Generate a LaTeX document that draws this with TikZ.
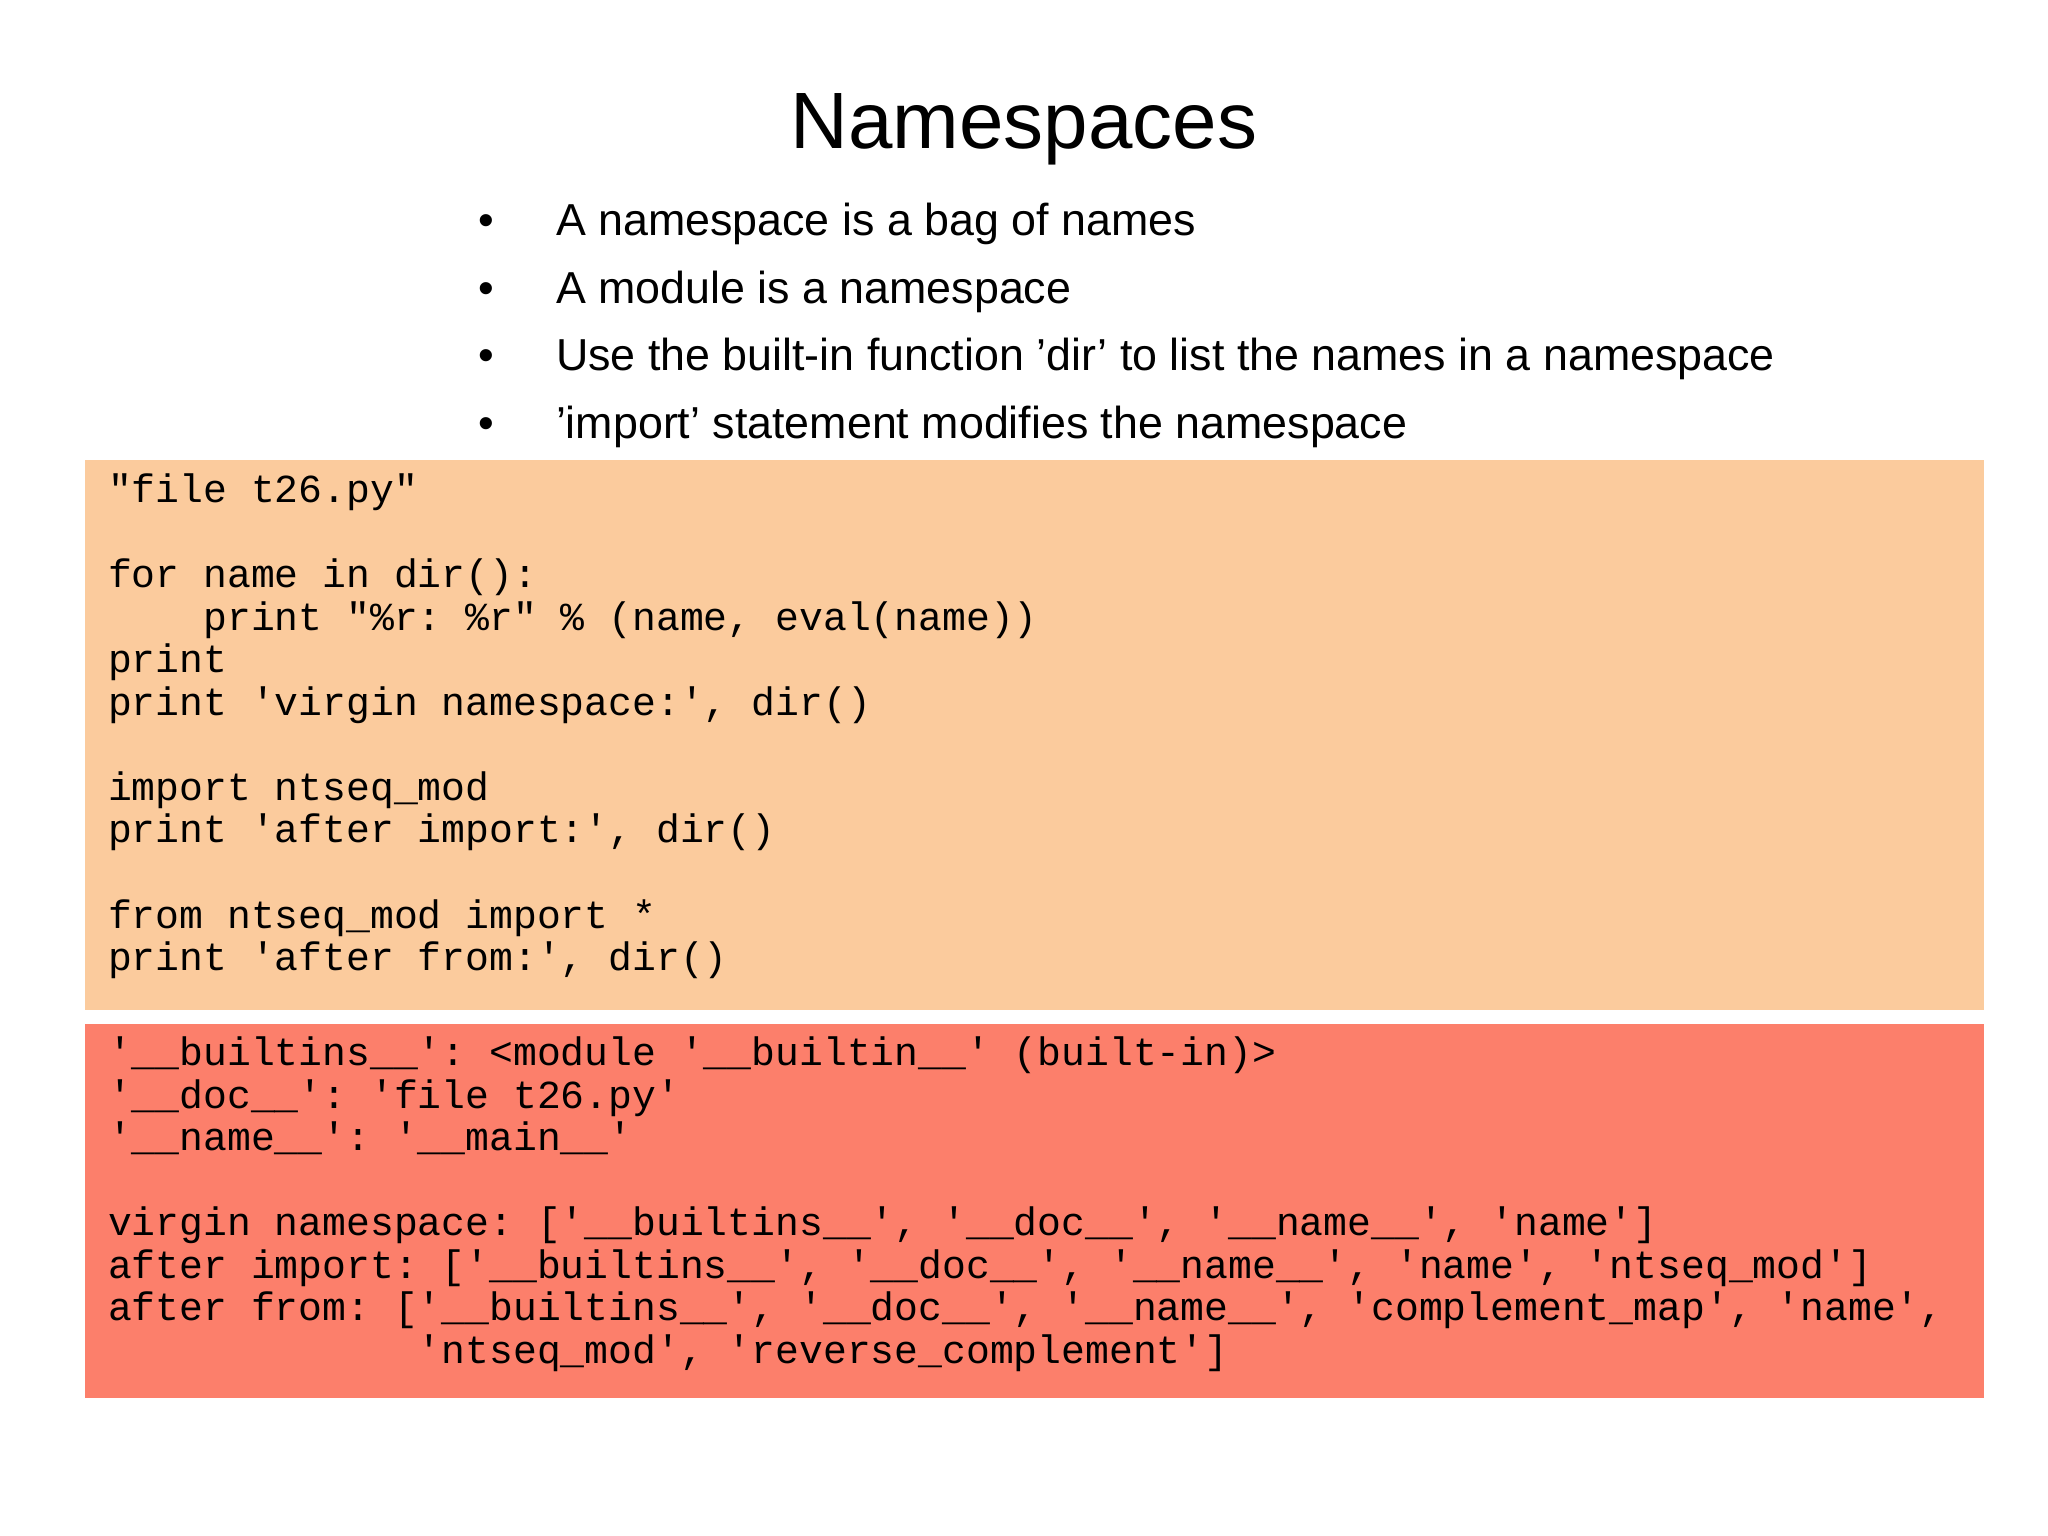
\documentclass[tikz,border=0pt]{standalone}
\usepackage{fontspec}
\setmainfont{Liberation Sans}
\setmonofont{Liberation Mono}
\begin{document}
\begin{tikzpicture}[x=0.01cm,y=-0.01cm,
  code/.style={anchor=base west,inner sep=0pt,font=\ttfamily\fontsize{8.65pt}{8.65pt}\selectfont},
  bul/.style={anchor=base west,inner sep=0pt,font=\fontsize{9.75pt}{9.75pt}\selectfont}]
\definecolor{orangebox}{HTML}{FBCB9D}
\definecolor{redbox}{HTML}{FC7F6B}
\useasboundingbox (0,0) rectangle (1568,1176);
\fill[white] (0,0) rectangle (1568,1176);
\fill[orangebox] (65,352) rectangle (1519,773);
\fill[redbox] (65,784) rectangle (1519,1070);
\node[anchor=base,inner sep=0pt,font=\fontsize{17.4pt}{17.4pt}\selectfont] (title) at (784,114) {Namespaces};
\foreach \y/\t [count=\i] in {180/A namespace is a bag of names,232/A module is a namespace,284/Use the built-in function ’dir’ to list the names in a namespace,336/’import’ statement modifies the namespace}{
  \node[bul] (b\i) at (366,\y) {•};
  \node[bul] (t\i) at (425,\y) {\t};
}
\node[code] (c1) at (82,385) {"file t26.py"};
\node[code] (c2) at (82,450) {for name in dir():};
\node[code] (c3) at (82,483) {\hspace*{2.4em}print "\%r: \%r" \% (name, eval(name))};
\node[code] (c4) at (82,515) {print};
\node[code] (c5) at (82,548) {print 'virgin namespace:', dir()};
\node[code] (c6) at (82,613) {import ntseq\_mod};
\node[code] (c7) at (82,645) {print 'after import:', dir()};
\node[code] (c8) at (82,711) {from ntseq\_mod import *};
\node[code] (c9) at (82,743) {print 'after from:', dir()};
\node[code] (r1) at (82,816) {'\_\_builtins\_\_': <module '\_\_builtin\_\_' (built-in)>};
\node[code] (r2) at (82,849) {'\_\_doc\_\_': 'file t26.py'};
\node[code] (r3) at (82,881) {'\_\_name\_\_': '\_\_main\_\_'};
\node[code] (r4) at (82,946) {virgin namespace: ['\_\_builtins\_\_', '\_\_doc\_\_', '\_\_name\_\_', 'name']};
\node[code] (r5) at (82,979) {after import: ['\_\_builtins\_\_', '\_\_doc\_\_', '\_\_name\_\_', 'name', 'ntseq\_mod']};
\node[code] (r6) at (82,1011) {after from: ['\_\_builtins\_\_', '\_\_doc\_\_', '\_\_name\_\_', 'complement\_map', 'name',};
\node[code] (r7) at (82,1044) {\phantom{after from: [}'ntseq\_mod', 'reverse\_complement']};
\end{tikzpicture}
\end{document}
